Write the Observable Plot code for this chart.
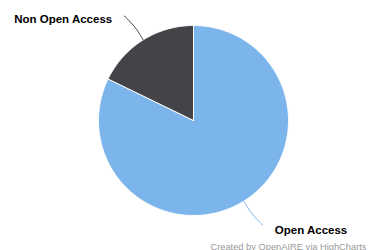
<!DOCTYPE html>
<html>
<head>
<meta charset="utf-8">
<script src="https://cdn.jsdelivr.net/npm/d3@7"></script>
<script src="https://cdn.jsdelivr.net/npm/@observablehq/plot@0.6"></script>
<style>
  html, body { margin: 0; padding: 0; background: #fff; }
</style>
</head>
<body>
<div id="chart"></div>
<script>
const categories = ["Open Access", "Non Open Access"];
const shares = [82.2, 17.8];
const colors = ["#7cb5ec", "#434348"];
const caption = "Created by OpenAIRE via HighCharts";

const W = 373, H = 250;
const R = 95, CX = 193, CY = 120;

const arcs = d3.pie().sort(null).value(d => d)(shares);

// slice polygons in radius units (y up)
const slices = [];
arcs.forEach((a, i) => {
  const n = Math.max(2, Math.ceil((a.endAngle - a.startAngle) / 0.01));
  slices.push({cat: categories[i], x: 0, y: 0});
  for (let k = 0; k <= n; k++) {
    const t = a.startAngle + (a.endAngle - a.startAngle) * k / n;
    slices.push({cat: categories[i], x: Math.sin(t), y: Math.cos(t)});
  }
  slices.push({cat: categories[i], x: 0, y: 0});
});

// connectors and labels
const connectors = [];
const labels = [];
arcs.forEach((a, i) => {
  const m = (a.startAngle + a.endAngle) / 2;
  const side = Math.sin(m) >= 0 ? 1 : -1;
  const p = r => ({x: r * Math.sin(m), y: r * Math.cos(m)});
  const p1 = p(1), p2 = p(1.15), p3 = p(1.3);
  p3.x += side * 0.04;
  [p1, p2, p3].forEach(q => connectors.push({cat: categories[i], ...q}));
  labels.push({cat: categories[i], side, x: p3.x, y: p3.y});
});

const font = "Liberation Sans, Arial, sans-serif";
const chart = Plot.plot({
  width: W,
  height: H,
  margin: 0,
  x: {domain: [-CX / R, (W - CX) / R], axis: null},
  y: {domain: [-(H - CY) / R, CY / R], axis: null},
  color: {domain: categories, range: colors},
  marks: [
    Plot.line(slices, {x: "x", y: "y", z: "cat", fill: "cat", stroke: "#fff", strokeWidth: 1, strokeLinejoin: "round"}),
    Plot.line(connectors, {x: "x", y: "y", z: "cat", stroke: "cat", strokeWidth: 1, curve: "catmull-rom"}),
    Plot.text(labels.filter(d => d.side < 0), {x: "x", y: "y", text: "cat", textAnchor: "end", dx: -12, dy: 4,
      fontSize: 11.5, fontWeight: "bold", fill: "#000", fontFamily: font}),
    Plot.text(labels.filter(d => d.side > 0), {x: "x", y: "y", text: "cat", textAnchor: "start", dx: 12, dy: 5,
      fontSize: 11.5, fontWeight: "bold", fill: "#000", fontFamily: font}),
    Plot.text([caption], {frameAnchor: "bottom-right", dx: -7, dy: -1, fontSize: 9.3, fill: "#999", fontFamily: font})
  ]
});
document.getElementById("chart").append(chart);
</script>
</body>
</html>
